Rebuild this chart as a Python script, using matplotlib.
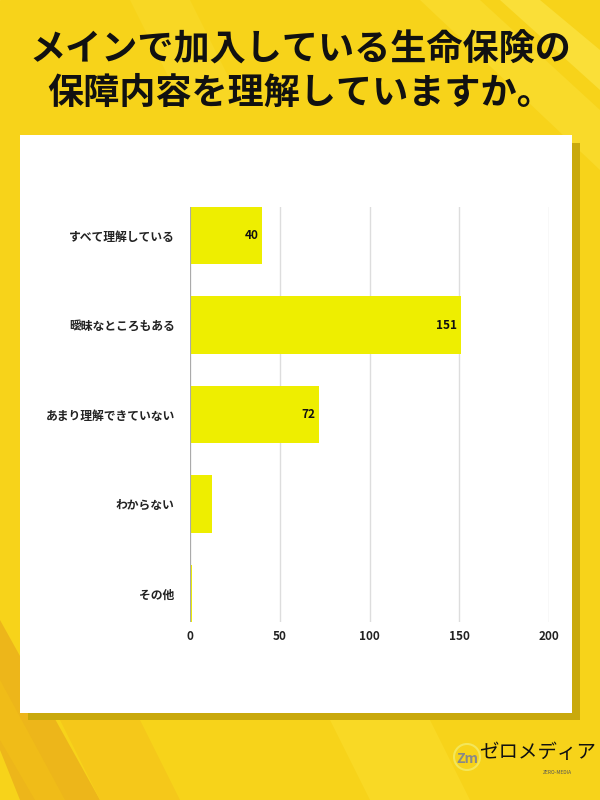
import matplotlib
matplotlib.use("Agg")
import matplotlib.pyplot as plt
from matplotlib.patches import Rectangle, Polygon, Circle
import numpy as np

plt.rcParams['font.family'] = ['Noto Sans CJK JP', 'DejaVu Sans']

title = "メインで加入している生命保険の\n保障内容を理解していますか。"
categories = ["すべて理解している", "曖昧なところもある", "あまり理解できていない", "わからない", "その他"]
values = [40, 151, 72, 12, 1]
xticks = [0, 50, 100, 150, 200]

W, H = 600, 800
fig = plt.figure(figsize=(6, 8), dpi=100)

# background
bg = fig.add_axes([0, 0, 1, 1])
bg.set_xlim(0, W)
bg.set_ylim(H, 0)
bg.axis('off')
bg.add_patch(Rectangle((0, 0), W, H, color='#F7D31A', zorder=0))
stripes = [
    ([(0, 620), (100, 800), (20, 800), (0, 750)], '#EDB61A'),
    ([(0, 680), (65, 800), (35, 800), (0, 740)], '#F0BC18'),
    ([(100, 800), (60, 720), (140, 720), (180, 800)], '#F5C81A'),
    ([(420, 0), (480, 0), (600, 110), (600, 170)], '#F9DA2A'),
    ([(500, 0), (540, 0), (600, 50), (600, 90)], '#FADF38'),
    ([(330, 720), (430, 720), (470, 800), (370, 800)], '#F9D925'),
    ([(130, 0), (190, 0), (240, 100), (180, 100)], '#F8D724'),
]
for pts, c in stripes:
    bg.add_patch(Polygon(pts, closed=True, color=c, zorder=1, lw=0))
# shadow + panel
bg.add_patch(Rectangle((28, 143), 552, 577, color='#C9A90C', zorder=2, lw=0))
bg.add_patch(Rectangle((20, 135), 552, 578, color='white', zorder=3, lw=0))

bg.text(300, 72, title, ha='center', va='center', fontsize=26, fontweight='bold',
        color='#111111', linespacing=1.22, zorder=5)

# logo
bg.add_patch(Circle((467, 757), 13, fill=False, ec='#F3E65A', lw=1.5, zorder=5))
bg.text(467, 759, "Zm", ha='center', va='center', fontsize=10, style='italic',
        color='#888888', fontweight='bold', zorder=6)
bg.text(538, 752, "ゼロメディア", ha='center', va='center', fontsize=14, color='#111111', zorder=6)
bg.text(557, 772, "ZERO-MEDIA", ha='center', va='center', fontsize=3.5, color='#555555', zorder=6)

# chart
ax = fig.add_axes([190 / W, 1 - 622 / H, (549 - 190) / W, (622 - 207) / H])
ax.set_zorder(10)
ax.patch.set_alpha(0)
y = np.arange(len(categories))
ax.barh(y, values, height=0.64, color='#EEEE00', zorder=3)
ax.set_xlim(0, 200)
ax.set_ylim(len(categories) - 1 + 0.32, -0.32)
ax.set_yticks(y)
ax.set_yticklabels(categories, fontsize=8.5, fontweight='bold', color='#222222')
ax.set_xticks(xticks)
ax.set_xticklabels([str(t) for t in xticks], fontsize=8.5, fontweight='bold', color='#222222')
ax.tick_params(axis='both', length=0)
ax.tick_params(axis='y', pad=11)
ax.tick_params(axis='x', pad=6)
for s in ax.spines.values():
    s.set_visible(False)
ax.grid(axis='x', color='#DDDDDD', lw=1, zorder=0)
ax.axvline(0, color='#AAAAAA', lw=0.8, zorder=4)
for yi, v in zip(y, values):
    if v >= 20:
        ax.text(v - 2, yi, str(v), ha='right', va='center', fontsize=8.5,
                fontweight='bold', color='#111111', zorder=5)

fig.savefig("out.png", dpi=100)
